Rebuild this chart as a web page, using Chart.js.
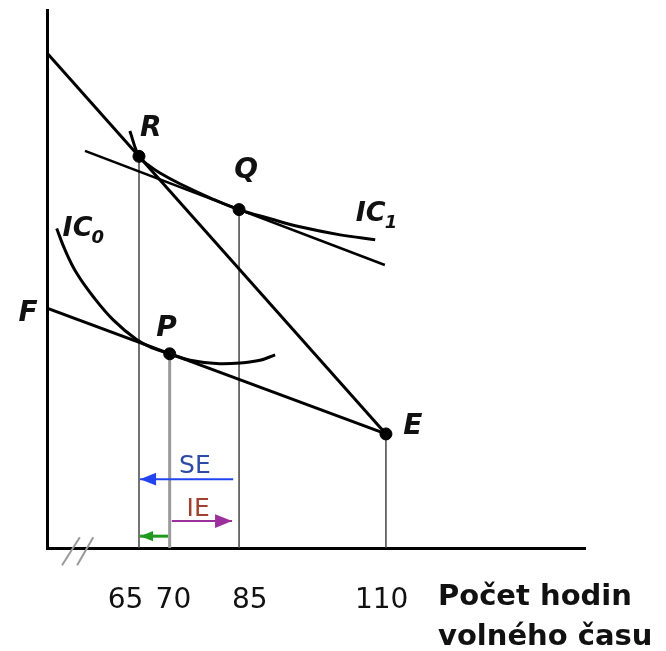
<!DOCTYPE html>
<html>
<head>
<meta charset="utf-8">
<script src="https://cdn.jsdelivr.net/npm/chart.js@4.4.0/dist/chart.umd.min.js"></script>
<style>
  html, body { margin: 0; padding: 0; background: #fff; }
  #wrap { width: 666px; height: 651px; }
</style>
</head>
<body>
<div id="wrap"><canvas id="chart"></canvas></div>
<script>
// schematic diagram, both axes run 0..100 (drawing is not to scale)
const tickPos = [14.6, 23.5, 37.7, 62.2];
const tickLabels = ["65", "70", "85", "110"];

const steepLine = [[0, 92.0], [63.0, 21.2]];
const lowLine = [[0, 44.6], [63.0, 21.2]];
const qLine = [[7.06, 73.8], [62.8, 52.6]];
const ic1 = [[15.4, 77.5], [17.1, 72.8], [18.8, 71.2], [21.0, 69.7], [24.7, 67.7], [30.3, 65.1],
             [35.7, 62.9], [41.5, 61.2], [47.0, 59.7], [54.5, 58.2], [61.0, 57.3]];
const ic0 = [[1.8, 59.4], [3.35, 55.4], [5.5, 51.1], [8.6, 46.7], [12.3, 42.4], [16.7, 38.7],
             [19.8, 37.1], [22.8, 36.1], [26.6, 34.9], [31.5, 34.3], [35.9, 34.4], [39.6, 34.9], [42.4, 35.9]];

const pointNames = ["R", "Q", "P", "E"];
const pointX = [17.1, 35.7, 22.8, 63.0];
const pointY = [72.8, 62.9, 36.1, 21.2];

// effects shown as horizontal arrows: [start, tip]
const seArrow = [[34.6, 12.8], [17.3, 12.8]];
const ieArrow = [[23.2, 5.0], [34.4, 5.0]];
const ieGreen = [[22.5, 2.2], [17.3, 2.2]];
const breakMarks = [[[2.8, -3.2], [6.1, 2.0]], [[5.6, -3.2], [8.6, 2.0]]];

const toXY = arr => arr.map(([x, y]) => ({ x, y }));

const FONT = '"DejaVu Sans", sans-serif';

// text annotations (position in chart units)
const notes = [
  { text: "R", x: 19.3, y: 78.0 },
  { text: "Q", x: 37.0, y: 70.1 },
  { text: "P", x: 22.2, y: 40.7 },
  { text: "E", x: 68.0, y: 22.5 },
  { text: "F", x: -3.5, y: 43.5 }
];
const curveNotes = [
  { text: "IC", sub: "1", x: 57.4, y: 62.1 },
  { text: "IC", sub: "0", x: 2.9, y: 59.3 }
];
const effectNotes = [
  { text: "SE", x: 27.5, y: 15.1, color: "#2d4aa6" },
  { text: "IE", x: 28.1, y: 7.1, color: "#a0402e" }
];

const lineDs = (data, extra) => Object.assign({
  type: "line",
  data: toXY(data),
  borderColor: "#000",
  borderWidth: 3,
  pointRadius: 0,
  fill: false,
  tension: 0
}, extra);

const datasets = [];

datasets.push({
  type: "scatter",
  data: pointX.map((x, i) => ({ x, y: pointY[i] })),
  backgroundColor: "#000",
  borderColor: "#000",
  pointRadius: 6
});

datasets.push(lineDs(seArrow, { borderColor: "#2244ee", borderWidth: 2, arrow: 8 }));
datasets.push(lineDs(ieArrow, { borderColor: "#9b2f9b", borderWidth: 2, arrow: 8.5 }));
datasets.push(lineDs(ieGreen, { borderColor: "#1f9a1f", borderWidth: 3, arrow: 6.5 }));

datasets.push(lineDs(steepLine));
datasets.push(lineDs(lowLine));
datasets.push(lineDs(qLine, { borderWidth: 2.5 }));
datasets.push(lineDs(ic1, { tension: 0.4 }));
datasets.push(lineDs(ic0, { tension: 0.4 }));

pointX.forEach((x, i) => {
  const isP = pointNames[i] === "P";
  datasets.push(lineDs([[x, 0], [x, pointY[i]]], {
    borderColor: isP ? "#9a9a9a" : "#444",
    borderWidth: isP ? 3 : 1.5
  }));
});

breakMarks.forEach(m => {
  datasets.push(lineDs(m, { borderColor: "#999", borderWidth: 2, clip: false }));
});

const arrowHeads = {
  id: "arrowHeads",
  afterDatasetsDraw(chart) {
    const ctx = chart.ctx;
    chart.data.datasets.forEach((ds, i) => {
      if (!ds.arrow) return;
      const pts = chart.getDatasetMeta(i).data;
      const a = pts[pts.length - 2], b = pts[pts.length - 1];
      const ang = Math.atan2(b.y - a.y, b.x - a.x);
      const len = ds.arrow * 2, half = ds.arrow * 0.8;
      ctx.save();
      ctx.translate(b.x, b.y);
      ctx.rotate(ang);
      ctx.fillStyle = ds.borderColor;
      ctx.beginPath();
      ctx.moveTo(0, 0);
      ctx.lineTo(-len, -half);
      ctx.lineTo(-len, half);
      ctx.closePath();
      ctx.fill();
      ctx.restore();
    });
  }
};

const textNotes = {
  id: "textNotes",
  afterDraw(chart) {
    const ctx = chart.ctx;
    const sx = chart.scales.x, sy = chart.scales.y;
    ctx.save();
    ctx.textBaseline = "middle";
    ctx.fillStyle = "#111";
    ctx.textAlign = "center";
    ctx.font = "bold italic 28px " + FONT;
    notes.forEach(n => ctx.fillText(n.text, sx.getPixelForValue(n.x), sy.getPixelForValue(n.y)));

    ctx.textAlign = "left";
    curveNotes.forEach(n => {
      const px = sx.getPixelForValue(n.x), py = sy.getPixelForValue(n.y);
      ctx.font = "bold italic 27px " + FONT;
      ctx.fillText(n.text, px, py);
      const w = ctx.measureText(n.text).width;
      ctx.font = "bold italic 18px " + FONT;
      ctx.fillText(n.sub, px + w - 1, py + 9);
    });

    ctx.textAlign = "center";
    ctx.font = "25px " + FONT;
    effectNotes.forEach(n => {
      ctx.fillStyle = n.color;
      ctx.fillText(n.text, sx.getPixelForValue(n.x), sy.getPixelForValue(n.y));
    });

    // axis title to the right of the tick labels
    const area = chart.chartArea;
    ctx.fillStyle = "#111";
    ctx.textAlign = "left";
    ctx.textBaseline = "alphabetic";
    ctx.font = "bold 29px " + FONT;
    ctx.fillText("Počet hodin", 438, area.bottom + 57);
    ctx.fillText("volného času", 438, area.bottom + 97);
    ctx.restore();
  }
};

new Chart(document.getElementById("chart"), {
  data: { datasets },
  options: {
    responsive: true,
    maintainAspectRatio: false,
    animation: false,
    devicePixelRatio: 1,
    layout: { padding: { left: 47, right: 81, top: 10, bottom: 43 } },
    plugins: { legend: { display: false }, tooltip: { enabled: false } },
    scales: {
      x: {
        type: "linear",
        min: 0,
        max: 100,
        grid: { display: false, drawTicks: false },
        border: { display: true, color: "#000", width: 3 },
        afterBuildTicks: s => { s.ticks = tickPos.map(v => ({ value: v })); },
        afterFit: s => { s.height = 60; },
        ticks: {
          autoSkip: false,
          maxRotation: 0,
          padding: 36,
          color: "#111",
          font: { family: FONT, size: 28 },
          callback: (v, i) => tickLabels[i]
        }
      },
      y: {
        type: "linear",
        min: 0,
        max: 100,
        grid: { display: false, drawTicks: false },
        border: { display: true, color: "#000", width: 3 },
        ticks: { display: false },
        afterFit: s => { s.width = 0; }
      }
    }
  },
  plugins: [arrowHeads, textNotes]
});
</script>
</body>
</html>
